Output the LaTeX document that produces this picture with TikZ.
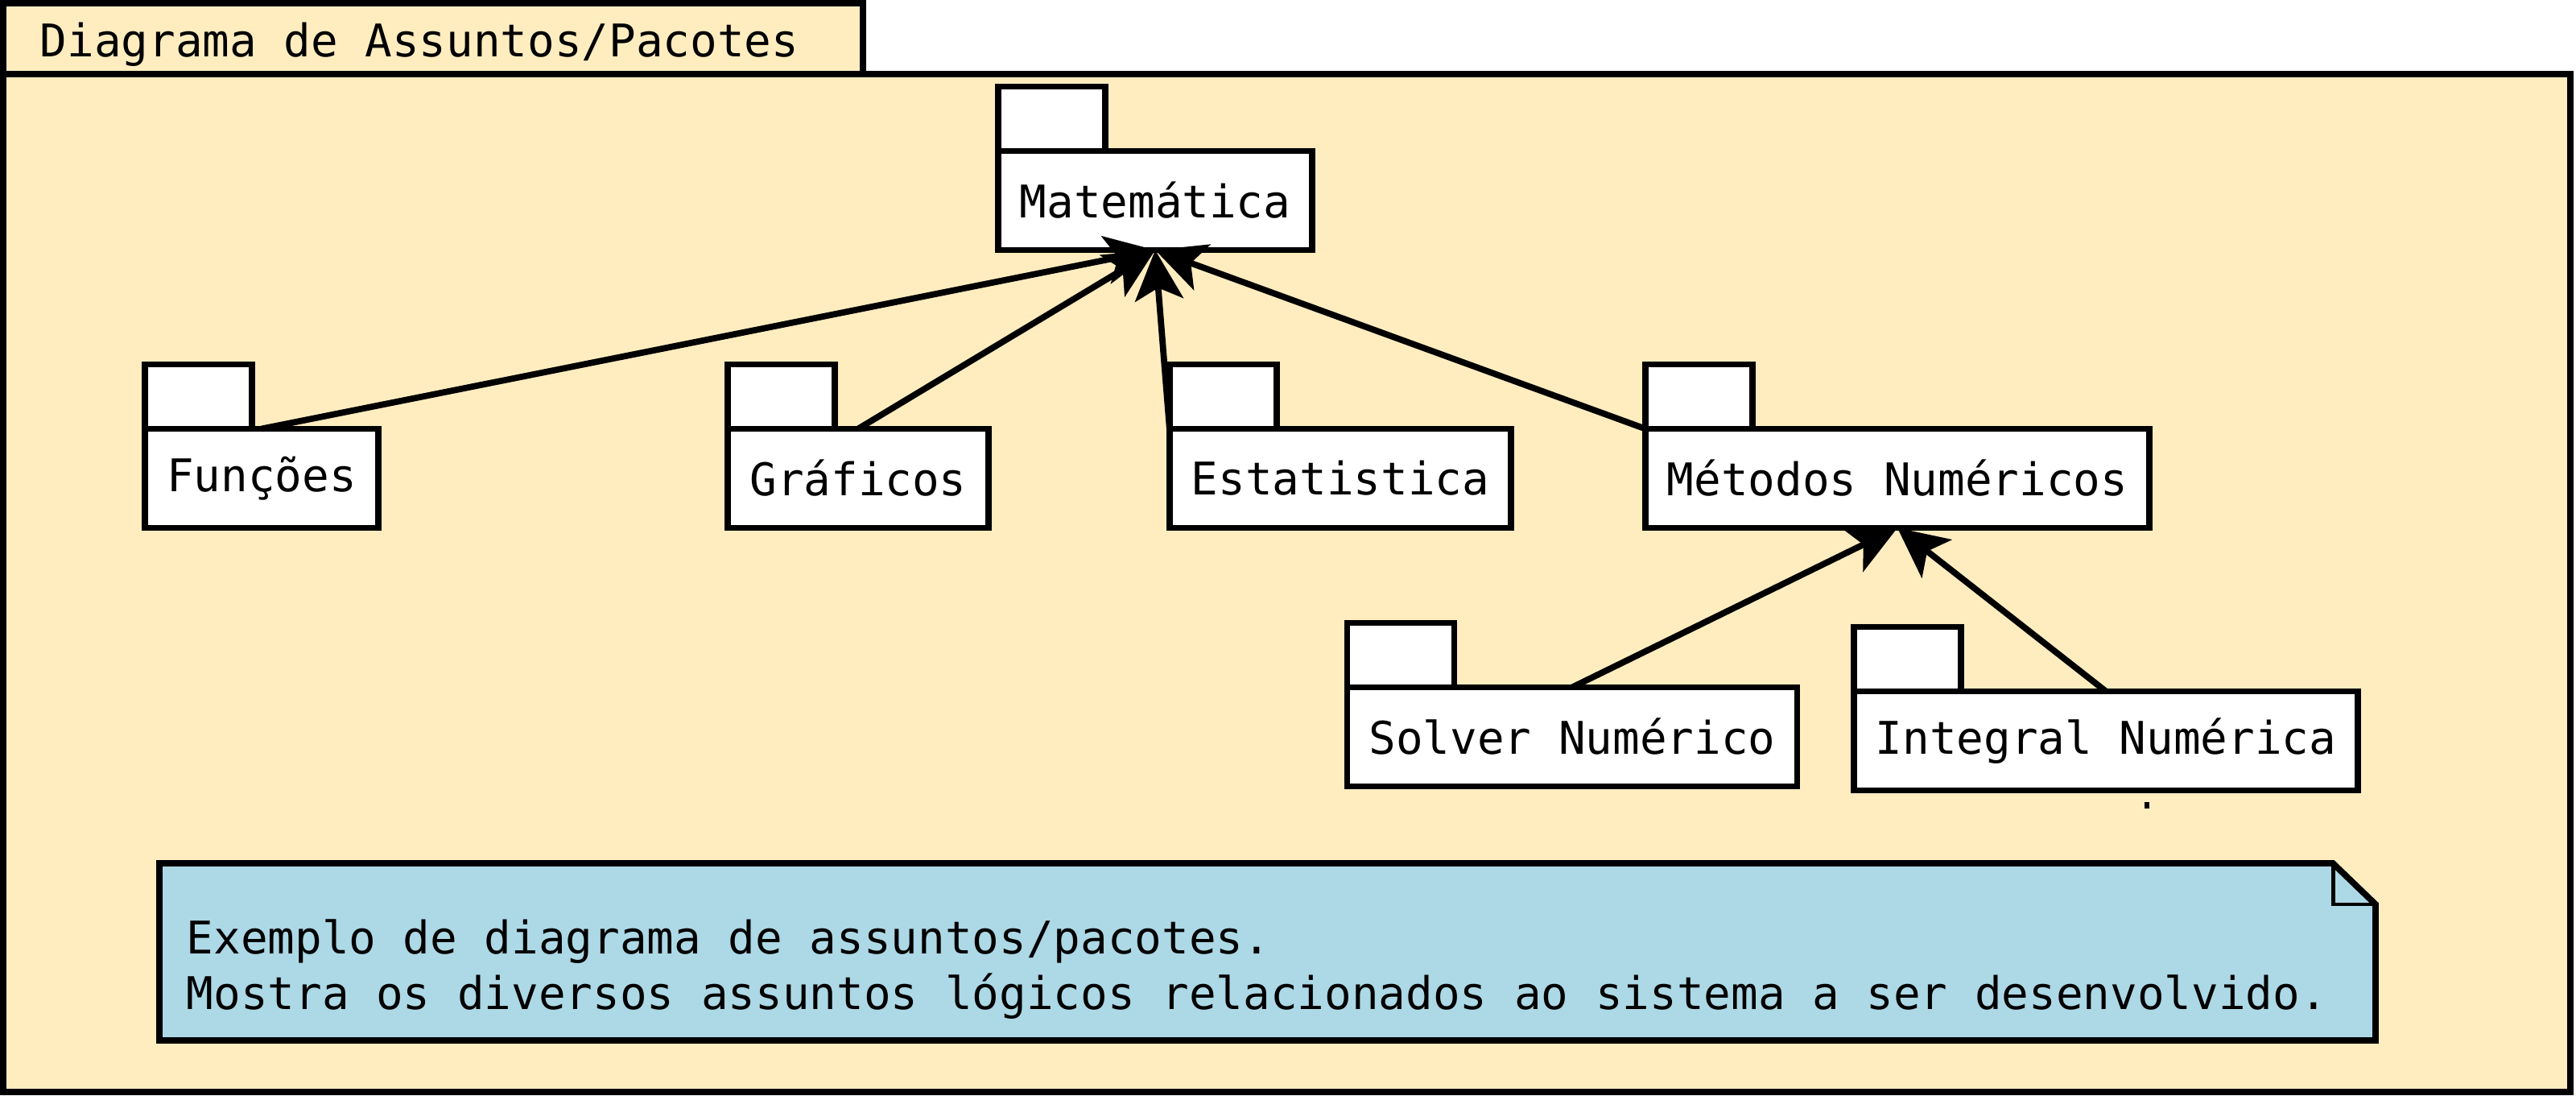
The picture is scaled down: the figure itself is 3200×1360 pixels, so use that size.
\documentclass[tikz,border=0pt]{standalone}
\usepackage{fontspec}
\setmainfont{DejaVu Sans Mono}
\usetikzlibrary{arrows.meta}

\definecolor{framefill}{RGB}{255,237,192}
\definecolor{notefill}{RGB}{173,216,230}

\tikzset{frame/.style={draw,fill=framefill,line width=2.2pt}}
\tikzset{pkg/.style={draw,fill=white,line width=2.2pt,outer sep=0pt,inner xsep=0.27cm,minimum height=1.23cm}}
\tikzset{pkgtab/.style={draw,fill=white,line width=2.2pt}}
\tikzset{dep/.style={line width=2.2pt,-{Stealth[length=0.62cm,width=0.6cm,inset=0.15cm]}}}

\begin{document}
\begin{tikzpicture}[x=0.01cm, y=-0.01cm, font=\fontsize{15.9}{19.6}\selectfont]
	\useasboundingbox (0,0) rectangle (3200,1360);
	
	% frame
	\draw [frame] (4,4) rectangle (1072,92);
	\draw [frame] (4,92) rectangle (3193,1356);
	\node [anchor=base west, inner sep=0pt] (title) at (49,70) {Diagrama de Assuntos/Pacotes};
	
	% packages
	\foreach \n/\l/\x/\y in {mat/Matemática/1435/249, func/Funções/325/594, graf/Gráficos/1066/594,
	    est/Estatistica/1665/594, met/Métodos Numéricos/2357/594,
	    solv/Solver Numérico/1953/915, integ/Integral Numérica/2616/920}
	  \node [pkg] (\n) at (\x,\y) {\l};
	
	% package tabs
	\foreach \n in {mat,func,graf,est,met,solv,integ}
	  \draw [pkgtab] (\n.north west) rectangle ++(133,-80);
	
	% sub -> Matematica
	\foreach \n in {func,graf}
	  \draw [dep] (\n.north) -- (mat.south);
	\foreach \n in {est,met}
	  \draw [dep] (\n.north west) -- (mat.south);
	
	% sub -> Metodos Numericos
	\foreach \n in {solv,integ}
	  \draw [dep] (\n.north) -- (met.south);
	
	\node [fill=black, inner sep=0pt, minimum width=0.06cm, minimum height=0.08cm] (mark) at (2667,1000) {};
	
	% note
	\draw [line width=2.2pt, fill=notefill] (198,1072) -- (2898,1072) -- (2951,1123)
	  -- (2951,1292) -- (198,1292) -- cycle;
	\draw [line width=1.4pt] (2898,1072) -- (2898,1123) -- (2951,1123);
	\node [anchor=west, align=left, inner sep=0pt] (notetext) at (231,1204)
	  {Exemplo de diagrama de assuntos/pacotes.\\Mostra os diversos assuntos lógicos relacionados ao sistema a ser desenvolvido.};
	
\end{tikzpicture}
\end{document}
